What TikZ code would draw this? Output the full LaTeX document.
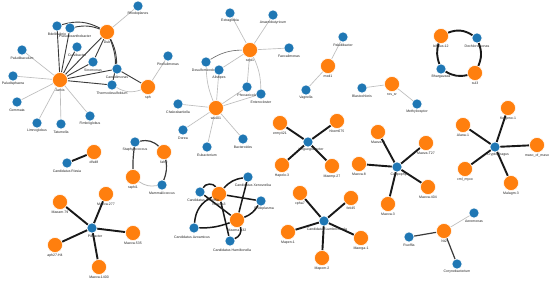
\documentclass[tikz,border=0pt]{standalone}
\usepackage{fontspec}
\setmainfont{Liberation Sans}
\usetikzlibrary{backgrounds}
\definecolor{orc}{HTML}{FF7F0E}
\definecolor{blc}{HTML}{1F77B4}
\definecolor{ltc}{HTML}{BDBDBD}
\definecolor{mdc}{HTML}{3A3A3A}
\tikzset{
 orn/.style={circle,fill=orc,draw=white,line width=0.5pt,minimum size=15pt,inner sep=0pt},
 blu/.style={circle,fill=blc,draw=white,line width=0.5pt,minimum size=10pt,inner sep=0pt},
 lbl/.style={font=\fontsize{3.5}{4}\selectfont,text=black!85,inner sep=0pt},
 lt/.style={draw=ltc,line width=0.65pt},
 md/.style={draw=mdc,line width=0.9pt},
 tk/.style={draw=black!90,line width=1.9pt},
}
\newcommand\OrN[4]{\node[orn] (#1) at (#2,#3) {}; \node[lbl] (#1L) at (#2,#3+10.5) {#4};}
\newcommand\BlN[4]{\node[blu] (#1) at (#2,#3) {}; \node[lbl] (#1L) at (#2,#3+8) {#4};}
\newcommand\HbN[4]{\node[blu] (#1) at (#2,#3) {}; \node[lbl] (#1L) at (#2+3,#3+8) {#4};}
\begin{document}
\begin{tikzpicture}[x=1pt,y=-1pt]
\useasboundingbox (0,0) rectangle (550,282);
% ---------- component 1
\OrN{J}{60}{80}{Jarvis}
\OrN{D}{107}{32}{Dub}
\OrN{S}{148}{87}{sph}
\BlN{rho}{138}{6}{Rhodoplanes}
\BlN{bde}{57}{26}{Bdellovibrio}
\BlN{pse}{70}{28}{}
\node[lbl] (pseL2) at (75,36.5) {Pseudoxanthobacter};
\BlN{cur}{77}{47}{Curvibacter}
\BlN{sin}{93}{62}{Sinomonas}
\BlN{can}{117}{69}{Candidimonas}
\BlN{the}{112}{85}{Thermodesulfobium}
\BlN{pir}{168}{56}{Pirellulimonas}
\BlN{pbc}{22}{50}{Paludibaculum}
\BlN{psp}{13}{76}{Paludisphaera}
\BlN{gem}{17}{102}{Gemmata}
\BlN{lim}{37}{123}{Limnoglobus}
\BlN{tat}{61}{124}{Tatumella}
\BlN{fim}{90}{116}{Fimbriiglobus}
% ---------- component 2
\OrN{sep}{250}{50}{sepi1}
\OrN{ws}{216}{108}{ws401}
\BlN{ext}{230}{13}{Extraglobia}
\BlN{ana}{273}{15}{Anaerobutyricum}
\BlN{fae}{289}{48}{Faecalimonas}
\BlN{des}{206}{62}{Desulfomicrobium}
\BlN{ali}{219}{70}{Alistipes}
\BlN{pho}{247}{87}{Phocaeicola}
\BlN{ent}{261}{94}{Enterocloster}
\BlN{cha}{178}{104}{Chakrabartiella}
\BlN{dor}{183}{130}{Dorea}
\BlN{eub}{207}{147}{Eubacterium}
\BlN{bac}{243}{139}{Bacteroides}
% ---------- component 3, 4
\OrN{mxd}{328}{66}{mxd1}
\BlN{pal}{343}{37}{Paludibacter}
\BlN{vag}{306}{90}{Vagnella}
\OrN{ros}{392}{84}{ros\_sr}
\BlN{bla}{362}{88}{Blastochloris}
\BlN{met}{417}{104}{Methyloraptor}
% ---------- component 5
\OrN{bif}{441}{36}{bifidus-12}
\BlN{dec}{477}{38}{Dechloromonas}
\BlN{bha}{441}{69}{Bhargavaea}
\OrN{sul}{475}{73}{sul3}
% ---------- component 6
\HbN{cry}{495}{147}{Cryptophagus}
\OrN{al1}{463}{125}{Alana-1}
\OrN{ke1}{508}{108}{Kelgeno-1}
\OrN{mas}{537}{145}{maso\_of\_maso}
\OrN{cml}{465}{169}{cml\_myxo}
\OrN{ma3}{511}{183}{Malagm-3}
% ---------- component 7
\HbN{cob}{397}{167}{Cobpophyte}
\OrN{m9}{378}{132}{Maeva-9}
\OrN{m27}{426}{143}{Maeva-T27}
\OrN{m8}{359}{164}{Maeva-8}
\OrN{m404}{428}{187}{Maeva-404}
\OrN{m3}{388}{204}{Maeva-3}
% ---------- component 8
\HbN{lin}{308}{142}{Lingueglobacter}
\OrN{erm}{280}{123}{ermy421}
\OrN{hbe}{337}{121}{hbem675}
\OrN{hap}{282}{165}{Hapelo-3}
\OrN{mp27}{332}{166}{Maemp-27}
% ---------- component 9
\HbN{lum}{324}{221}{Candidatus Lumbricincola}
\OrN{cph}{300}{193}{cpha7}
\OrN{fet}{351}{198}{feti45}
\OrN{mpe}{288}{232}{Mapen-1}
\OrN{mer}{361}{238}{Maerga-1}
\OrN{mpo}{322}{258}{Mapom-2}
% ---------- component 10
\OrN{kA}{219}{194}{Niviella3}
\OrN{kB}{237}{220}{Maema-432}
\BlN{kK}{248}{177}{}
\node[lbl] (kKL2) at (253,185) {Candidatus Xenovorika};
\BlN{kS}{200}{192}{}
\node[lbl] (kSL2) at (203,200.5) {Candidatus Sheriffia};
\BlN{kE}{261}{201}{}
\node[lbl] (kEL2) at (264,209) {Endoplasma};
\BlN{kZ}{194}{228}{}
\node[lbl] (kZL2) at (192,237) {Candidatus Azoamicus};
\BlN{kH}{230}{241}{}
\node[lbl] (kHL2) at (232,250) {Candidatus Hamiltonella};
% ---------- component 11
\OrN{nt}{444}{231}{Nt2}
\BlN{aer}{474}{213}{Aeromonas}
\BlN{ruo}{409}{237}{Ruoffia}
\BlN{cor}{457}{264}{Corynebacterium}
% ---------- component 12, 13
\OrN{dfs}{94}{152}{dfsd8}
\BlN{rie}{67}{163}{Candidatus Riesia}
\BlN{sta}{135}{142}{Staphylococcus}
\OrN{faf}{164}{152}{fafr2}
\OrN{rap}{133}{177}{raphi1}
\BlN{mam}{162}{185}{Mammaliicoccus}
% ---------- component 14
\HbN{pil}{92}{228}{Pilibacter}
\OrN{m79}{60}{202}{Maeam-79}
\OrN{m277}{106}{194}{Maeva-277}
\OrN{m535}{133}{233}{Maeva-535}
\OrN{aph}{55}{245}{aph27-H4}
\OrN{m1400}{99}{267}{Maeva-1400}
% ================= edges
\begin{scope}[on background layer]
\fill[white] (0,0) rectangle (550,282);
% c1
\foreach \t in {pbc,psp,gem,lim,tat,fim} \draw[lt] (J) -- (\t);
\draw[lt] (D) -- (rho);
\draw[lt] (S) -- (pir);
\draw[lt] (S) to[bend left=25] (the);
\foreach \t in {bde,pse,cur,sin,can,the,D} \draw[md] (J) -- (\t);
\draw[md] (D) -- (sin);
\draw[md] (D) to[bend left=12] (can);
\draw[md] (D) to[bend left=18] (the);
\draw[md] (D) to[bend right=22] (bde);
\draw[md] (D) to[bend right=16] (pse);
\draw[md] (S) -- (can);
% c2
\foreach \t in {ext,ana,fae,ali,pho} \draw[lt] (sep) -- (\t);
\draw[md,draw=black!60,line width=0.6pt] (sep) to[bend right=15] (des);
\draw[lt] (sep) to[bend left=12] (ent);
\draw[lt] (ws) to[bend left=10] (des);
\foreach \t in {ali,pho,ent,cha,dor,eub,bac} \draw[lt] (ws) -- (\t);
% c3, c4
\draw[lt] (mxd) -- (pal);
\draw[lt] (mxd) -- (vag);
\draw[lt] (ros) -- (bla);
\draw[lt] (ros) -- (met);
% c5
\draw[tk] (bif) to[bend left=28] (dec);
\draw[tk] (dec) to[bend left=22] (sul);
\draw[tk] (sul) to[bend left=22] (bha);
\draw[tk] (bha) to[bend left=18] (bif);
% stars
\foreach \t in {al1,ke1,mas,cml,ma3} \draw[tk] (cry) -- (\t);
\foreach \t in {m9,m27,m8,m404,m3} \draw[tk] (cob) -- (\t);
\foreach \t in {erm,hbe,hap,mp27} \draw[tk] (lin) -- (\t);
\foreach \t in {cph,fet,mpe,mer,mpo} \draw[tk] (lum) -- (\t);
\foreach \t in {m79,m277,m535,aph,m1400} \draw[tk] (pil) -- (\t);
% c10 knot
\draw[tk,line width=1.5pt] (kS) to[bend left=60] (kA);
\draw[tk,line width=1.5pt] (kA) to[bend left=20] (kK);
\draw[tk,line width=1.5pt] (kA) -- (kE);
\draw[tk,line width=1.5pt] (kA) -- (kH);
\draw[tk,line width=1.5pt] (kZ) to[bend left=30] (kA);
\draw[tk,line width=1.5pt] (kZ) to[bend right=10] (kB);
\draw[tk,line width=1.5pt] (kB) -- (kK);
\draw[tk,line width=1.5pt] (kB) to[bend right=18] (kE);
\draw[tk,line width=1.5pt] (kB) to[bend left=45] (kH);
\draw[tk,line width=1.5pt] (kS) -- (kB);
% c11
\draw[lt] (nt) -- (aer);
\draw[md,line width=1.2pt] (nt) -- (ruo);
\draw[md,line width=1.2pt] (nt) -- (cor);
% c12, c13
\draw[tk] (dfs) -- (rie);
\draw[md,line width=1.2pt] (sta) to[bend left=28] (faf);
\draw[md,line width=1.2pt] (sta) to[bend right=4] (rap);
\draw[lt,line width=0.8pt] (rap) to[bend right=22] (mam);
\draw[md,line width=1.2pt] (faf) to[bend left=16] (mam);
\end{scope}
\end{tikzpicture}
\end{document}
